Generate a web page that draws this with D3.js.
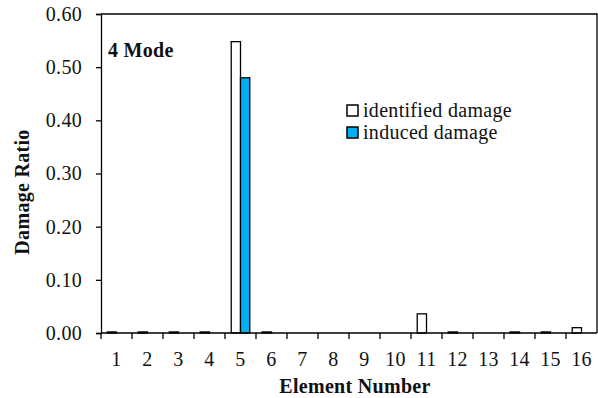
<!DOCTYPE html>
<html lang="en">

<head>
    <meta charset="UTF-8">
    <script src="https://cdnjs.cloudflare.com/ajax/libs/d3/7.9.0/d3.min.js"></script>
    <title>Damage ratio</title>
    <style>
        body {
            margin: 0;
            background-color: white;
        }

        svg {
            display: block;
        }
    </style>
</head>

<body>
    <div id="chart"></div>

    <script>
        const width = 598;
        const height = 398;
        const margin = { top: 14, right: 1, bottom: 65, left: 101 };
        const serif = "Liberation Serif";
        const fontSize = 20;

        // element numbers on the x axis
        const elements = ["1", "2", "3", "4", "5", "6", "7", "8", "9", "10", "11", "12", "13", "14", "15", "16"];
        // damage ratios
        const identified = [0.002, 0.002, 0.002, 0.002, 0.548, 0.002, 0, 0, 0, 0, 0.036, 0.002, 0, 0.002, 0.002, 0.010];
        const induced = [0, 0, 0, 0, 0.48, 0, 0, 0, 0, 0, 0, 0, 0, 0, 0, 0];
        const yTicks = [0, 0.1, 0.2, 0.3, 0.4, 0.5, 0.6];

        const series = [
            { name: "identified damage", values: identified, fill: "#ffffff" },
            { name: "induced damage", values: induced, fill: "#00b0f0" }
        ];

        const svg = d3.select("#chart")
            .append("svg")
            .attr("width", width)
            .attr("height", height)
            .attr("font-family", serif)
            .attr("letter-spacing", 0.3)
            .attr("fill", "#111");

        const x = d3.scaleBand()
            .domain(elements)
            .range([margin.left, width - margin.right]);

        const xSub = d3.scaleBand()
            .domain(series.map(s => s.name))
            .range([0, x.bandwidth()])
            .paddingOuter(0.67);

        const y = d3.scaleLinear()
            .domain([0, 0.6])
            .range([height - margin.bottom, margin.top]);

        // bars, one group per element
        series.forEach(s => {
            svg.append("g")
                .selectAll("rect")
                .data(s.values.map((v, i) => ({ el: elements[i], v: v })).filter(d => d.v > 0))
                .enter()
                .append("rect")
                .attr("x", d => x(d.el) + xSub(s.name))
                .attr("y", d => y(d.v))
                .attr("width", xSub.bandwidth())
                .attr("height", d => y(0) - y(d.v))
                .attr("fill", s.fill)
                .attr("stroke", "#000")
                .attr("stroke-width", 1.3);
        });

        // frame: top and right
        svg.append("path")
            .attr("d", `M${margin.left},${margin.top}H${width - margin.right}V${height - margin.bottom}`)
            .attr("fill", "none")
            .attr("stroke", "#000")
            .attr("stroke-width", 1.3);

        // Y axis
        const yAxis = d3.axisLeft(y)
            .tickValues(yTicks)
            .tickFormat(d3.format(".2f"))
            .tickSize(5)
            .tickPadding(14);
        svg.append("g")
            .attr("transform", `translate(${margin.left},0)`)
            .call(yAxis)
            .attr("font-family", serif)
            .attr("font-size", fontSize)
            .call(g => g.selectAll("line, path").attr("stroke", "#000").attr("stroke-width", 1.3))
            .call(g => g.selectAll("text").attr("fill", "#111"));

        // X axis: ticks sit on the category boundaries
        const xAxis = d3.axisBottom(x).tickSize(0).tickPadding(19);
        const gx = svg.append("g")
            .attr("transform", `translate(0,${height - margin.bottom})`)
            .call(xAxis)
            .attr("font-family", serif)
            .attr("font-size", fontSize)
            .call(g => g.selectAll("text").attr("fill", "#111"));
        gx.select(".domain").attr("d", `M${margin.left},0H${width - margin.right}`)
            .attr("stroke", "#000").attr("stroke-width", 1.5);
        gx.selectAll(".boundary")
            .data(elements)
            .enter()
            .append("line")
            .attr("class", "boundary")
            .attr("x1", d => x(d))
            .attr("x2", d => x(d))
            .attr("y1", 0)
            .attr("y2", 6)
            .attr("stroke", "#000")
            .attr("stroke-width", 1.3);

        // axis titles
        svg.append("text")
            .attr("x", 355)
            .attr("y", 393)
            .attr("text-anchor", "middle")
            .attr("font-weight", "bold")
            .attr("font-size", fontSize)
            .text("Element Number");

        svg.append("text")
            .attr("transform", "translate(29,192) rotate(-90)")
            .attr("text-anchor", "middle")
            .attr("font-weight", "bold")
            .attr("font-size", fontSize)
            .text("Damage Ratio");

        svg.append("text")
            .attr("x", 108)
            .attr("y", 57)
            .attr("font-weight", "bold")
            .attr("font-size", fontSize)
            .text("4 Mode");

        // legend
        const legend = svg.append("g")
            .attr("transform", "translate(347,105)");
        const item = legend.selectAll("g")
            .data(series)
            .enter()
            .append("g")
            .attr("transform", (d, i) => `translate(0,${i * 22})`);
        item.append("rect")
            .attr("width", 11)
            .attr("height", 11)
            .attr("fill", d => d.fill)
            .attr("stroke", "#000")
            .attr("stroke-width", 1.5);
        item.append("text")
            .attr("x", 16)
            .attr("y", 11.5)
            .attr("font-size", fontSize)
            .text(d => d.name);
    </script>

</body>

</html>
